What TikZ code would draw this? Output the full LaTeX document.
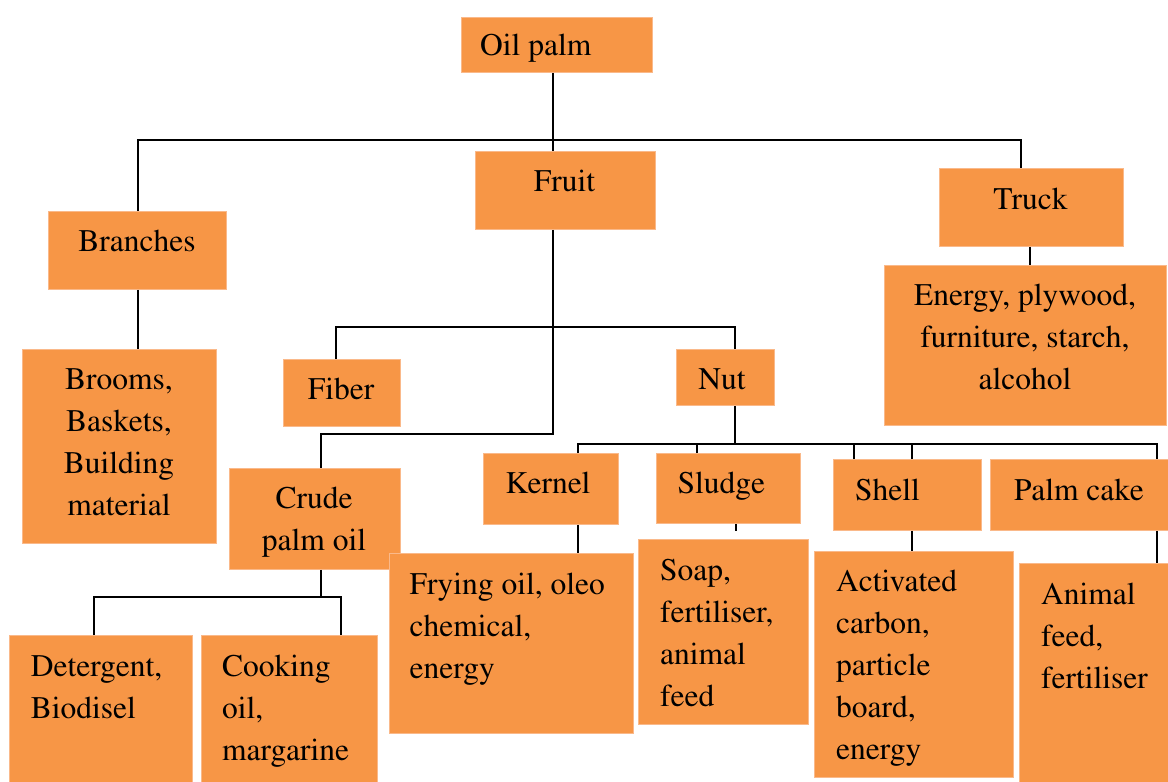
\documentclass[tikz,border=0pt]{standalone}
\usepackage[T1]{fontenc}
\renewcommand{\rmdefault}{ptm}
\definecolor{boxorange}{HTML}{F79646}
\definecolor{boxedge}{HTML}{FAB98A}
\begin{document}
\begin{tikzpicture}[x=1pt,y=-1pt,
  box/.style={fill=boxorange, draw=boxedge, line width=0.8pt, anchor=north west, inner sep=0pt},
  txt/.style={inner sep=0pt, font=\rmfamily\fontsize{31.5}{42}\selectfont},
  ltxt/.style={txt, anchor=north west, align=left},
  ctxt/.style={txt, anchor=north, align=center},
  link/.style={line width=1.8pt, black}]
\useasboundingbox (0,0) rectangle (1168,782);
% boxes
\node[box, minimum width=191pt, minimum height=55pt] (oil) at (461,17) {};
\node[box, minimum width=180pt, minimum height=78pt] (fruit) at (475,151) {};
\node[box, minimum width=184pt, minimum height=78pt] (truck) at (939,168) {};
\node[box, minimum width=178pt, minimum height=78pt] (branches) at (48,211) {};
\node[box, minimum width=194pt, minimum height=194pt] (brooms) at (22,349) {};
\node[box, minimum width=282pt, minimum height=160pt] (energy) at (884,265) {};
\node[box, minimum width=117pt, minimum height=67pt] (fiber) at (283,359) {};
\node[box, minimum width=98pt, minimum height=56pt] (nut) at (676,349) {};
\node[box, minimum width=171pt, minimum height=101pt] (crude) at (229,468) {};
\node[box, minimum width=135pt, minimum height=71pt] (kernel) at (483,453) {};
\node[box, minimum width=144pt, minimum height=70pt] (sludge) at (656,453) {};
\node[box, minimum width=148pt, minimum height=71pt] (shell) at (833,459) {};
\node[box, minimum width=180pt, minimum height=71pt] (palmcake) at (990,459) {};
\node[box, minimum width=244pt, minimum height=180pt] (frying) at (389,553) {};
\node[box, minimum width=170pt, minimum height=185pt] (soap) at (638,539) {};
\node[box, minimum width=199pt, minimum height=226pt] (activated) at (814,551) {};
\node[box, minimum width=151pt, minimum height=222pt] (animal) at (1019,563) {};
\node[box, minimum width=183pt, minimum height=150pt] (detergent) at (9,635) {};
\node[box, minimum width=176pt, minimum height=150pt] (cooking) at (201,635) {};
% texts
\node[ltxt] (toil) at (480,25.6) {\strut Oil palm};
\node[ctxt] (tfruit) at (564.5,162.3) {\strut Fruit};
\node[ctxt] (ttruck) at (1030.5,179.6) {\strut Truck};
\node[ctxt] (tbranches) at (137,222.3) {\strut Branches};
\node[ctxt] (tenergy) at (1025,275.6) {\strut Energy, plywood,\\furniture, starch,\\alcohol};
\node[ctxt] (tbrooms) at (119,360) {\strut Brooms,\\Baskets,\\Building\\material};
\node[ctxt] (tfiber) at (341,369.6) {\strut Fiber};
\node[ctxt] (tnut) at (722,360) {\strut Nut};
\node[ctxt] (tcrude) at (314,479.3) {\strut Crude\\palm oil};
\node[ctxt] (tkernel) at (548,464) {\strut Kernel};
\node[ltxt] (tsludge) at (677.5,464) {\strut Sludge};
\node[ltxt] (tshell) at (855,470.6) {\strut Shell};
\node[ltxt] (tpalmcake) at (1014,470.6) {\strut Palm cake};
\node[ltxt] (tfrying) at (409.5,565) {\strut Frying oil, oleo\\chemical,\\energy};
\node[ltxt] (tsoap) at (660,550.6) {\strut Soap,\\fertiliser,\\animal\\feed};
\node[ltxt] (tactivated) at (836,562.3) {\strut Activated\\carbon,\\particle\\board,\\energy};
\node[ltxt] (tanimal) at (1041,574.6) {\strut Animal\\feed,\\fertiliser};
\node[ltxt] (tdetergent) at (30.6,646.6) {\strut Detergent,\\Biodisel};
\node[ltxt] (tcooking) at (222,646.6) {\strut Cooking\\oil,\\margarine};
% connectors
\coordinate (jtop) at (553,140);
\draw[link] (oil.south -| jtop) -- (fruit.north -| jtop);
\draw[link] (branches.north -| 138,0) |- (jtop) -| (truck.north -| 1021,0);
\draw[link] (branches.south -| 138,0) -- (brooms.north -| 138,0);
\draw[link] (truck.south -| 1030,0) -- (energy.north -| 1030,0);
\draw[link] (fiber.north -| 336,0) |- (735,327) -- (nut.north -| 735,0);
\draw[link] (fruit.south -| 553,0) |- (321,434) -- (crude.north -| 321,0);
\draw[link] (nut.south -| 735,0) -- (735,445);
\draw[link] (kernel.north -| 578,0) |- (1157,444) -- (palmcake.north -| 1157,0);
\draw[link] (sludge.north -| 697,0) -- (697,444);
\draw[link] (shell.north -| 854,0) -- (854,444);
\draw[link] (shell.north -| 912,0) -- (912,444);
\draw[link] (kernel.south -| 578,0) -- (frying.north -| 578,0);
\coordinate (sstub) at (736,531);
\draw[link] (sludge.south -| sstub) -- (sstub);
\draw[link] (shell.south -| 912,0) -- (activated.north -| 912,0);
\draw[link] (palmcake.south -| 1157,0) -- (animal.north -| 1157,0);
\draw[link] (crude.south -| 321,0) -- (321,597);
\draw[link] (detergent.north -| 94,0) |- (341,597) -- (cooking.north -| 341,0);
\end{tikzpicture}
\end{document}
